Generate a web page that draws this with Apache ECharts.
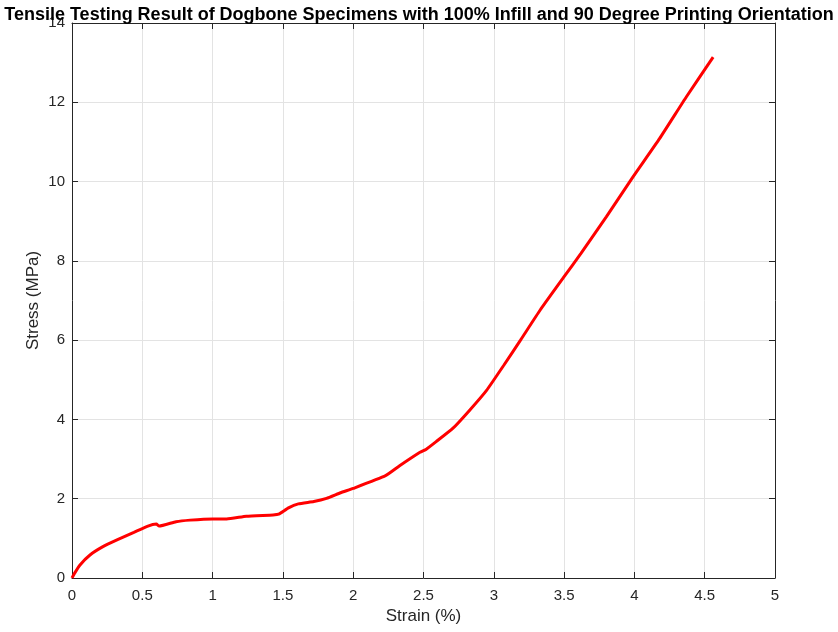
<!DOCTYPE html>
<html>
<head>
<meta charset="utf-8">
<script src="https://cdn.jsdelivr.net/npm/echarts@6/dist/echarts.min.js"></script>
<style>
  html, body { margin: 0; padding: 0; background: #fff; }
  #main { width: 838px; height: 632px; }
</style>
</head>
<body>
<div id="main"></div>
<script>
// strain (%) and stress (MPa)
const strain = [0, 0.02, 0.057, 0.128, 0.22, 0.32, 0.44, 0.54, 0.60, 0.62, 0.74, 0.84, 1.0, 1.10, 1.24, 1.43, 1.47, 1.54, 1.61, 1.72, 1.81, 1.91, 2.0, 2.23, 2.33, 2.475, 2.52, 2.59, 2.71, 2.83, 2.95, 3.07, 3.19, 3.33, 3.50, 3.62, 3.80, 3.99, 4.18, 4.37, 4.56];
const stress = [0, 0.13, 0.33, 0.58, 0.79, 0.96, 1.15, 1.31, 1.36, 1.31, 1.42, 1.46, 1.49, 1.49, 1.56, 1.59, 1.61, 1.77, 1.87, 1.93, 2.01, 2.15, 2.26, 2.58, 2.83, 3.17, 3.25, 3.44, 3.78, 4.24, 4.74, 5.36, 6.0, 6.76, 7.60, 8.19, 9.11, 10.12, 11.09, 12.14, 13.14];

const title = 'Tensile Testing Result of Dogbone Specimens with 100% Infill and 90 Degree Printing Orientation';
const font = 'Helvetica, "Liberation Sans", Arial, sans-serif';
const axisColor = '#262626';

let chart = echarts.init(document.getElementById('main'));

// box axes (top / right) have ticks only
const boxX = {
    type: 'value', position: 'top', min: 0, max: 5, interval: 0.5,
    axisLine: { show: true, onZero: false, lineStyle: { color: axisColor, width: 1 } },
    axisTick: { show: true, inside: true, length: 6, lineStyle: { color: axisColor } },
    axisLabel: { show: false }, splitLine: { show: false }
};
const boxY = {
    type: 'value', position: 'right', min: 0, max: 14, interval: 2,
    axisLine: { show: true, onZero: false, lineStyle: { color: axisColor, width: 1 } },
    axisTick: { show: true, inside: true, length: 6, lineStyle: { color: axisColor } },
    axisLabel: { show: false }, splitLine: { show: false }
};

const options = {
    backgroundColor: '#fff',
    animation: false,
    title: {
        text: title,
        left: 'center',
        top: 1,
        textStyle: { fontFamily: font, fontSize: 18, fontWeight: 'bold', color: '#000' }
    },
    grid: { left: 72, right: 63, top: 23, bottom: 54 },
    xAxis: [
        {
            type: 'value', min: 0, max: 5, interval: 0.5,
            name: 'Strain (%)', nameLocation: 'middle', nameGap: 30,
            nameTextStyle: { fontFamily: font, fontSize: 17, color: axisColor },
            axisLine: { show: true, onZero: false, lineStyle: { color: axisColor, width: 1 } },
            axisTick: { show: true, inside: true, length: 6, lineStyle: { color: axisColor } },
            axisLabel: {
                fontFamily: font, fontSize: 15, color: axisColor, margin: 10,
                formatter: v => String(+v.toFixed(1))
            },
            splitLine: { show: true, lineStyle: { color: '#e3e3e3', width: 1 } }
        },
        boxX
    ],
    yAxis: [
        {
            type: 'value', min: 0, max: 14, interval: 2,
            name: 'Stress (MPa)', nameLocation: 'middle', nameGap: 30,
            nameMoveOverlap: false,
            nameTextStyle: { fontFamily: font, fontSize: 17, color: axisColor },
            axisLine: { show: true, onZero: false, lineStyle: { color: axisColor, width: 1 } },
            axisTick: { show: true, inside: true, length: 6, lineStyle: { color: axisColor } },
            axisLabel: { fontFamily: font, fontSize: 15, color: axisColor, margin: 7 },
            splitLine: { show: true, lineStyle: { color: '#e3e3e3', width: 1 } }
        },
        boxY
    ],
    series: [
        {
            type: 'line',
            data: strain.map((x, i) => [x, stress[i]]),
            showSymbol: false,
            smooth: 0.15,
            lineStyle: { color: '#ff0000', width: 3 },
            itemStyle: { color: '#ff0000' }
        }
    ]
};
chart.setOption(options);
</script>
</body>
</html>
